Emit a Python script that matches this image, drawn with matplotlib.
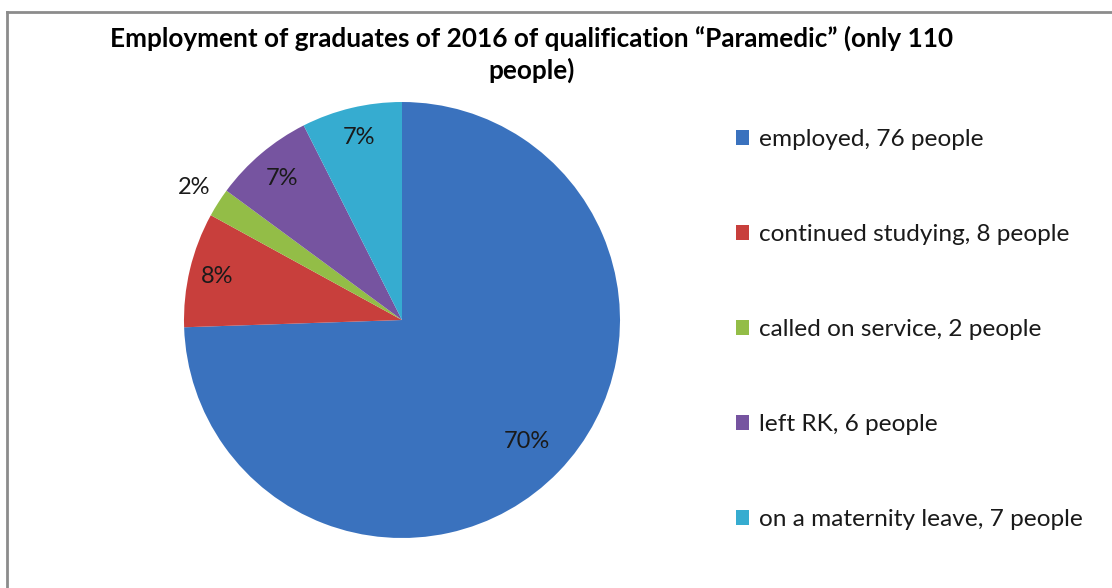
import matplotlib.pyplot as plt
from matplotlib.lines import Line2D
import numpy as np

# data (slice values as shown on the chart, in %)
categories = ["employed, 76 people", "continued studying, 8 people",
              "called on service, 2 people", "left RK, 6 people",
              "on a maternity leave, 7 people"]
values = [70, 8, 2, 7, 7]
colors = ["#3A72BE", "#C83F3C", "#93BD47", "#7654A0", "#36ACD0"]
title = "Employment of graduates of 2016 of qualification \u201cParamedic\u201d (only 110\npeople)"

plt.rcParams['font.family'] = ['Lato', 'DejaVu Sans']

fig = plt.figure(figsize=(11.12, 5.88), dpi=100)
W, H = 1112, 588

# gray chart frame (runs off right and bottom edges)
fig.add_artist(Line2D([7/W, 1], [1 - 12/H, 1 - 12/H], color="#8c8c8c", lw=2, transform=fig.transFigure))
fig.add_artist(Line2D([7/W, 7/W], [0, 1 - 12/H], color="#8c8c8c", lw=2, transform=fig.transFigure))

# pie axes: center (402,320), radius 218 px
cx, cy, r = 402, 320, 218
ax = fig.add_axes([(cx - r)/W, (H - cy - r)/H, 2*r/W, 2*r/H])
wedges, _ = ax.pie(values, colors=colors, startangle=90, counterclock=False, radius=1)
ax.set_xlim(-1, 1)
ax.set_ylim(-1, 1)
ax.set_aspect('equal')

# value labels
dists = [0.80, 0.87, 1.13, 0.85, 0.86]
for w, v, d in zip(wedges, values, dists):
    ang = np.deg2rad((w.theta1 + w.theta2) / 2)
    ax.text(d*np.cos(ang), d*np.sin(ang), f"{v}%", ha='center', va='center',
            fontsize=17, color="#1a1a1a")

fig.text(532/W, 1 - 54/H, title, ha='center', va='center', fontsize=18.8,
         fontweight='bold', color='black', linespacing=1.3)

leg = fig.legend(wedges, categories, loc='upper left', bbox_to_anchor=(736/W, 1 - 129/H),
                 frameon=False, fontsize=17.6, handlelength=0.55, handleheight=0.55,
                 handletextpad=0.4, labelspacing=3.03, borderpad=0, borderaxespad=0)
for t in leg.get_texts():
    t.set_color("#1a1a1a")

fig.savefig("out.png", dpi=100)
